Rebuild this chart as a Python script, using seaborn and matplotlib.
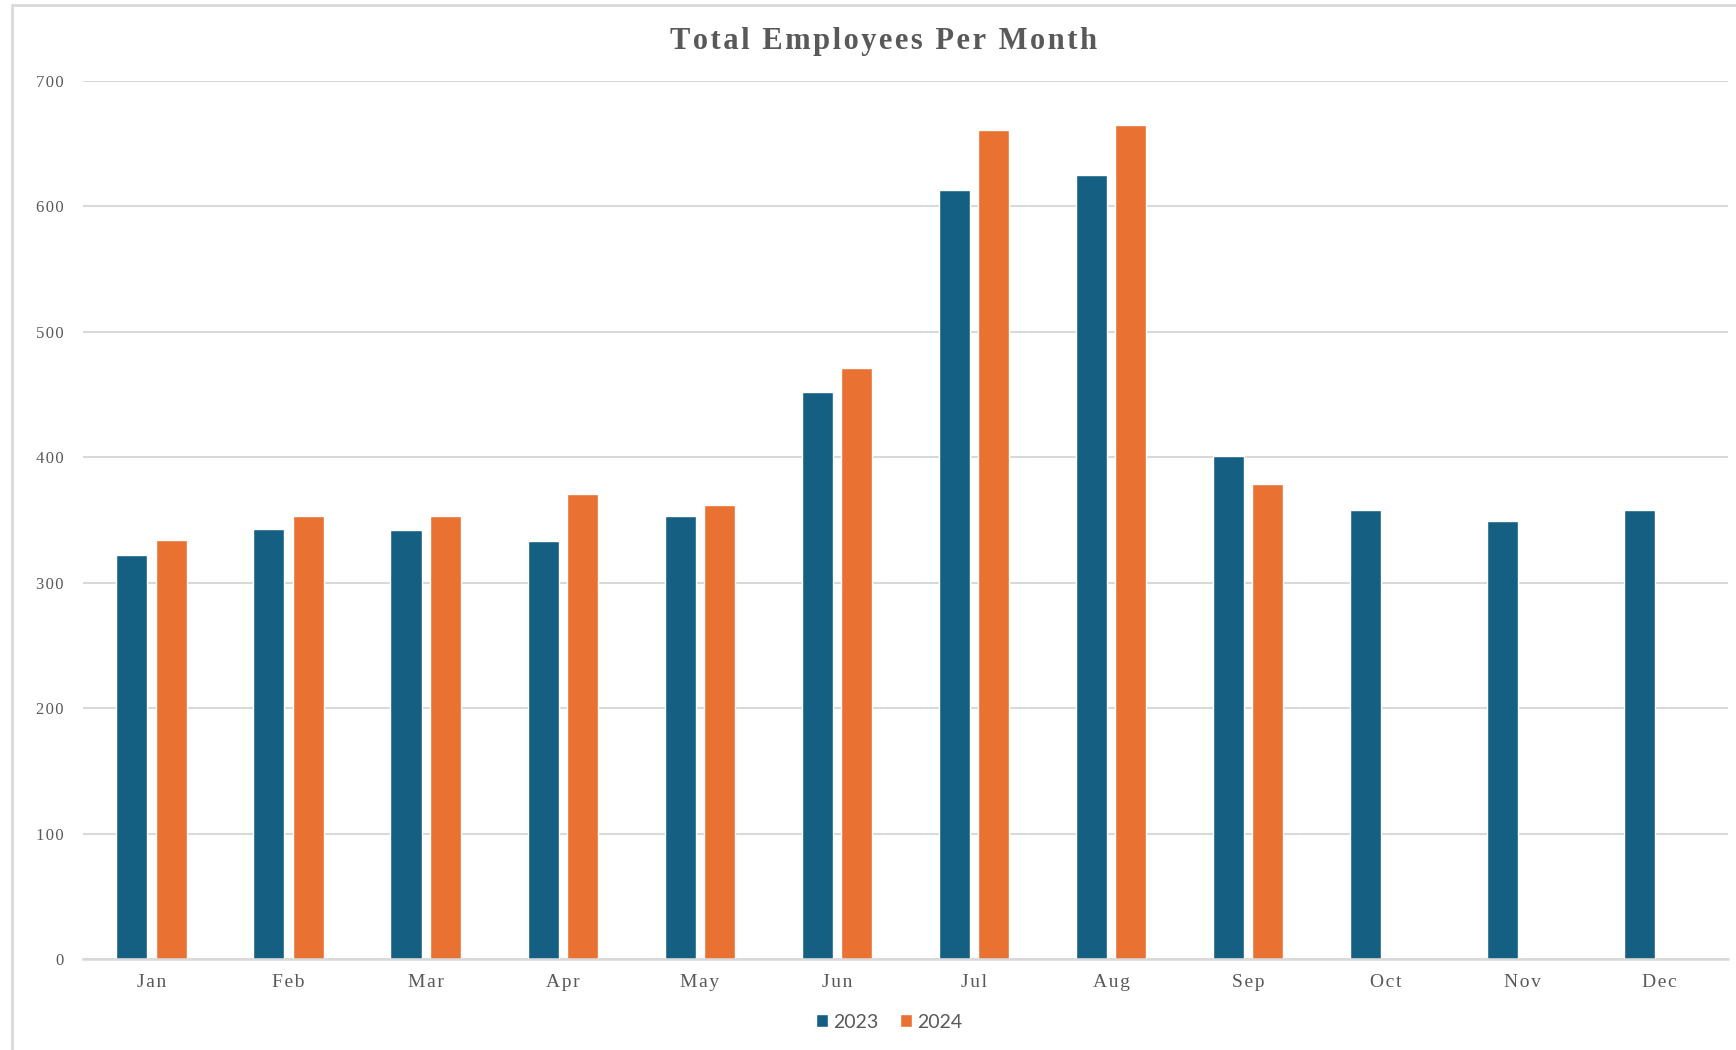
import numpy as np
import pandas as pd
import matplotlib
matplotlib.use("Agg")
import matplotlib.pyplot as plt
from matplotlib.patches import Rectangle
import seaborn as sns

# Monthly headcount
months = ["Jan", "Feb", "Mar", "Apr", "May", "Jun",
          "Jul", "Aug", "Sep", "Oct", "Nov", "Dec"]
employees_2023 = [322, 343, 342, 333, 353, 452, 613, 625, 401, 358, 349, 358]
employees_2024 = [334, 353, 353, 371, 362, 471, 661, 665, 379, np.nan, np.nan, np.nan]
years = ["2023", "2024"]
y_ticks = [0, 100, 200, 300, 400, 500, 600, 700]
title = "Total Employees Per Month"

df = pd.DataFrame({
    "Month": months * 2,
    "Year": [years[0]] * len(months) + [years[1]] * len(months),
    "Employees": employees_2023 + employees_2024,
}).dropna()

BLUE = "#156082"
ORANGE = "#E97132"
GRID = "#D9D9D9"
TEXT = "#595959"
SERIF = ["Liberation Serif", "DejaVu Serif"]


def spaced(s, sep):
    """Open up the tracking of a label by putting a narrow space between letters."""
    return sep.join(s)


sns.set_theme(style="white")
plt.rcParams["font.family"] = SERIF

W, H = 1736, 1050
fig = plt.figure(figsize=(W / 100, H / 100), dpi=100)
fig.patch.set_facecolor("white")
ax = fig.add_axes([83 / W, 1 - 959 / H, (1728 - 83) / W, (959 - 81) / H])

sns.barplot(
    data=df, x="Month", y="Employees", hue="Year",
    order=months, hue_order=years,
    palette=[BLUE, ORANGE], width=0.575, gap=0.213,
    saturation=1, errorbar=None, ax=ax, zorder=3,
)

ax.set_xlim(-0.5, len(months) - 0.5)
ax.set_ylim(0, 700)
ax.set_yticks(y_ticks)
ax.set_yticklabels([spaced(str(v), "\u200a") for v in y_ticks])
ax.set_xticks(range(len(months)))
ax.set_xticklabels([spaced(m, "\u200a") for m in months])
ax.grid(axis="y", color=GRID, linewidth=1.5, zorder=0)
ax.grid(axis="x", visible=False)
for side in ["top", "right", "left"]:
    ax.spines[side].set_visible(False)
ax.spines["bottom"].set_color(GRID)
ax.spines["bottom"].set_linewidth(1.8)
ax.spines["bottom"].set_zorder(4)
ax.set_xlabel("")
ax.set_ylabel("")
ax.tick_params(axis="both", length=0, labelcolor=TEXT)
ax.tick_params(axis="y", pad=14, labelsize=12)
ax.tick_params(axis="x", pad=11, labelsize=14)

fig.text(884 / W, 1 - 42 / H, spaced(title, "\u200a"),
         ha="center", va="center", fontsize=22, fontweight="bold",
         color=TEXT, family=SERIF)

handles, labels = ax.get_legend_handles_labels()
if ax.legend_:
    ax.legend_.remove()
fig.legend(handles, labels, loc="center", bbox_to_anchor=(889 / W, 1 - 1022 / H),
           ncol=2, frameon=False, handlelength=0.65, handleheight=0.65,
           handletextpad=0.25, columnspacing=1.1,
           prop={"family": ["Lato", "DejaVu Sans"], "size": 14},
           labelcolor=TEXT)

# Outer chart frame (left and top edges)
fig.add_artist(Rectangle((12 / W, -0.1), 1.2, 1.1 - 5 / H,
                         transform=fig.transFigure, fill=False,
                         edgecolor=GRID, linewidth=2))

fig.savefig("out.png", dpi=100)
